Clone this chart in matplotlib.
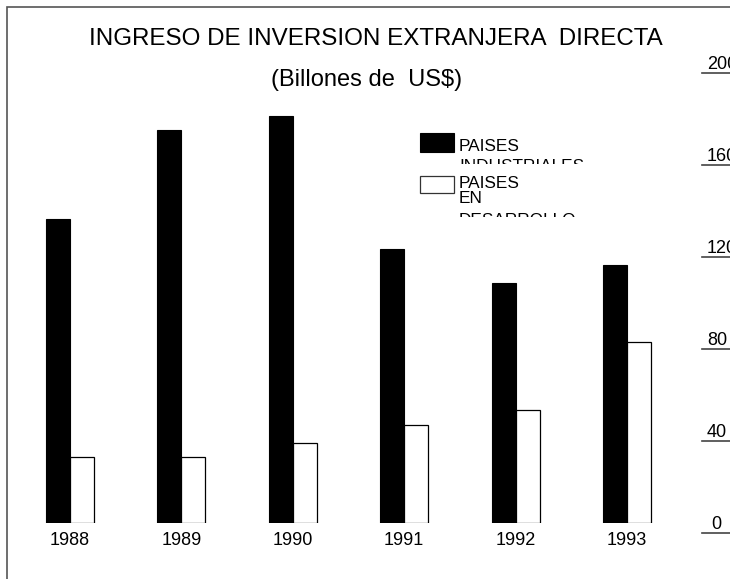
import matplotlib
matplotlib.use("Agg")
import matplotlib.pyplot as plt
import matplotlib.transforms as mtransforms
from matplotlib.patches import Rectangle
import numpy as np

plt.rcParams["font.family"] = ["Liberation Sans", "DejaVu Sans"]

years = ["1988", "1989", "1990", "1991", "1992", "1993"]
industriales = [132, 171, 177, 119, 104.5, 112]
desarrollo = [28.5, 28.5, 35, 42.5, 49, 78.5]
right_ticks = [0, 40, 80, 120, 160, 200]

W, H = 730, 579


def fx(x):
    return x / W


def fy(y):
    return 1 - y / H


fig = plt.figure(figsize=(7.3, 5.79), dpi=100)

# outer frame (only top and left edges are inside the picture)
fig.patches.append(Rectangle((fx(7), -0.2), 1.5, fy(7) + 0.2, transform=fig.transFigure,
                             fill=False, edgecolor="#555555", linewidth=1.2))

ax = fig.add_axes([0, 1 - 523 / H, 1, (523 - 63) / H])
ax.set_xlim(-0.628, 5.924)
ax.set_ylim(0, 200)
for s in ax.spines.values():
    s.set_visible(False)
ax.patch.set_visible(False)

x = np.arange(len(years))
w = 0.216
ax.bar(x - w / 2, industriales, w, color="black", edgecolor="black", linewidth=0.8)
ax.bar(x + w / 2, desarrollo, w, color="white", edgecolor="black", linewidth=0.9)

ax.set_xticks(x)
ax.set_xticklabels(years, fontsize=13)
ax.tick_params(axis="x", length=0, pad=6.5)
ax.set_yticks([])

# value labels on the right, each with a short rule just below
blend = mtransforms.blended_transform_factory(ax.transAxes, ax.transData)
off = mtransforms.ScaledTranslation(0, -10 / 100, fig.dpi_scale_trans)
for v in right_ticks:
    ax.annotate(f"{v:>2}", xy=(fx(707), v), xycoords=blend, xytext=(0, -4.3),
                textcoords="offset points", ha="left", va="baseline", fontsize=13,
                annotation_clip=False)
    ax.plot([fx(702), 1.05], [v, v], transform=blend + off, color="#444444",
            linewidth=1.2, clip_on=False)

# title
fig.text(fx(376), fy(45), "INGRESO DE INVERSION EXTRANJERA  DIRECTA",
         ha="center", va="baseline", fontsize=17.4)
fig.text(fx(367), fy(86), "(Billones de  US$)", ha="center", va="baseline", fontsize=17)

# legend, with its labels cut off by the entry boxes
fig.patches.append(Rectangle((fx(420), fy(152)), fx(34), 19 / H, transform=fig.transFigure,
                             facecolor="black", edgecolor="black", linewidth=0.8))
fig.patches.append(Rectangle((fx(420), fy(193)), fx(34), 17 / H, transform=fig.transFigure,
                             facecolor="white", edgecolor="#333333", linewidth=0.9))

clip1 = mtransforms.TransformedBbox(
    mtransforms.Bbox.from_extents(fx(455), fy(164), fx(610), fy(128)), fig.transFigure)
clip2 = mtransforms.TransformedBbox(
    mtransforms.Bbox.from_extents(fx(455), fy(217), fx(610), fy(170)), fig.transFigure)

for txt, base, clip in [("PAISES", 151, clip1), ("INDUSTRIALES", 171, clip1),
                        ("PAISES", 188, clip2), ("EN", 203, clip2),
                        ("DESARROLLO", 225, clip2)]:
    t = fig.text(fx(459), fy(base), txt, ha="left", va="baseline", fontsize=12.4)
    t.set_clip_box(clip)
    t.set_clip_on(True)

fig.savefig("out.png", dpi=100)
plt.close(fig)
